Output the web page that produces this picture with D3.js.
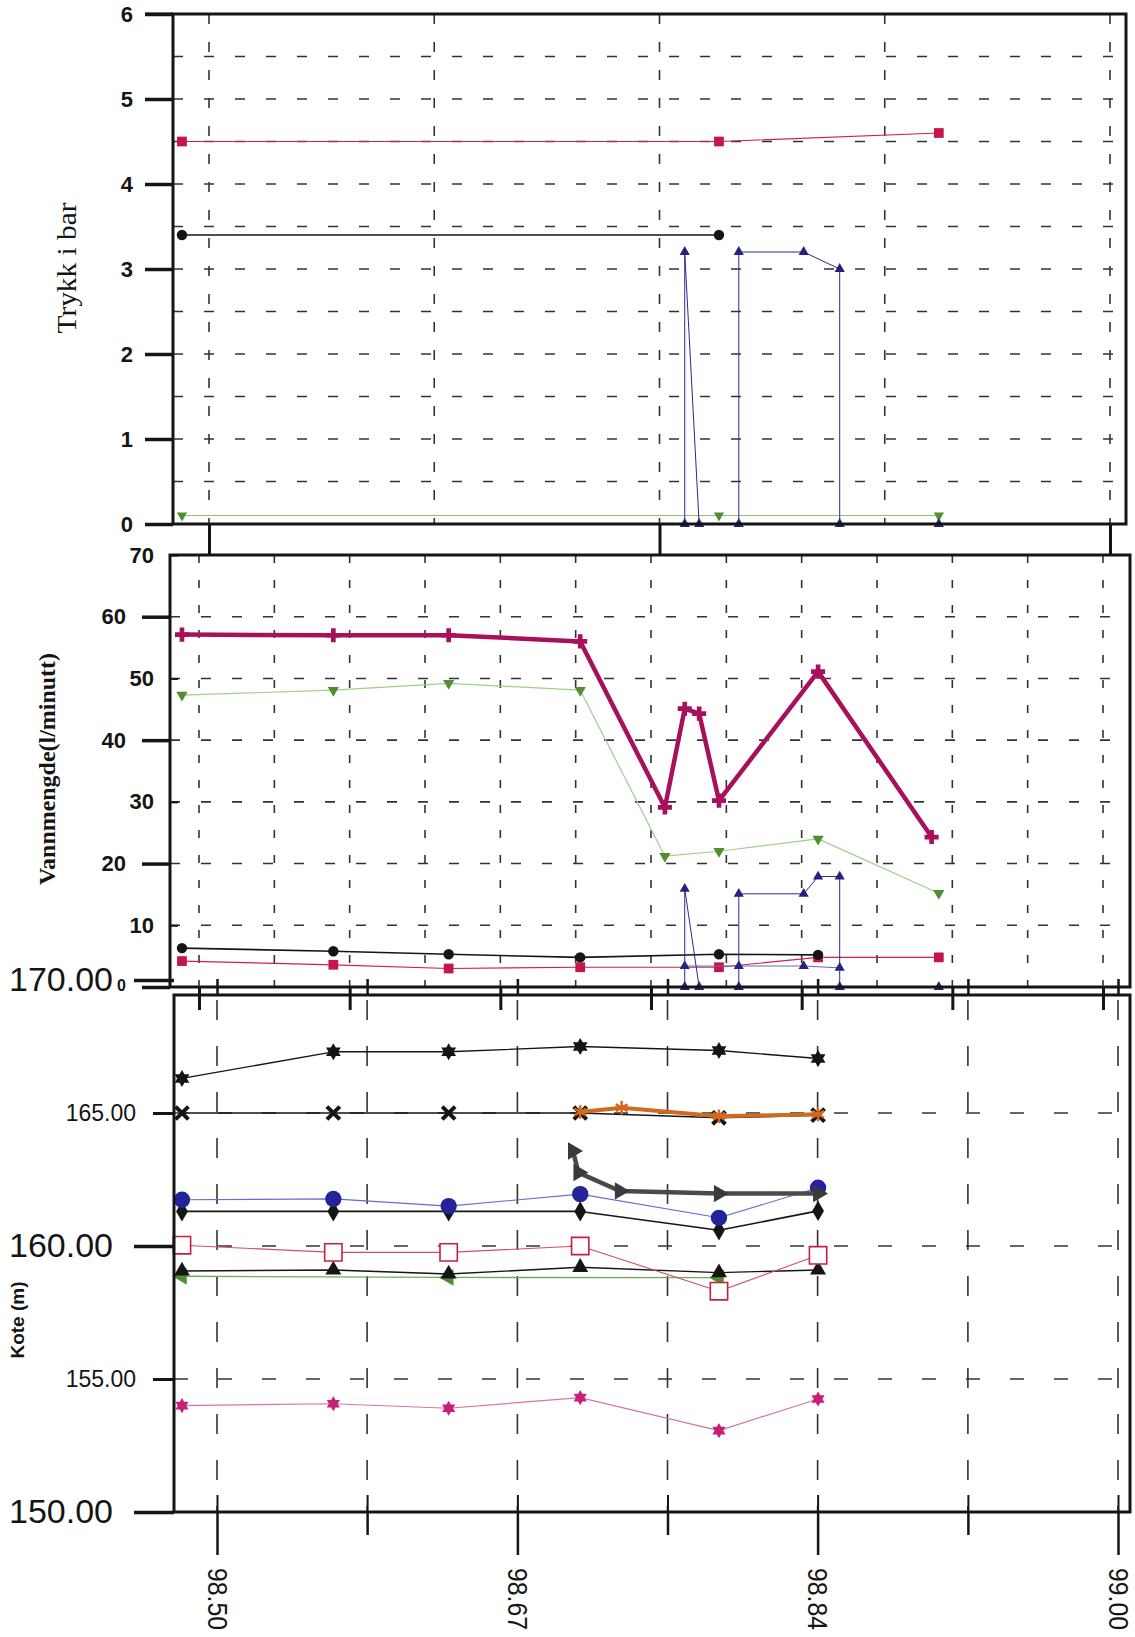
<!DOCTYPE html>
<html>
<head>
<meta charset="utf-8">
<script src="https://cdn.jsdelivr.net/npm/d3@7"></script>
<style>
body { margin: 0; background: #fff; }
</style>
</head>
<body>
<div id="chart"></div>
<script>

// ---- data: x values are decimal years (98.50 = mid 1998) ----

// Trykk i bar (top panel)
const pressRedX = [98.485, 98.783, 98.905];
const pressRedY = [4.5, 4.5, 4.6];
const pressBlackX = [98.485, 98.783];
const pressBlackY = [3.4, 3.4];
const pressBlueX = [98.764, 98.764, 98.772, 98.794, 98.794, 98.830, 98.850, 98.850, 98.905];
const pressBlueY = [0, 3.2, 0, 0, 3.2, 3.2, 3.0, 0, 0];
const pressGreenX = [98.485, 98.783, 98.905];
const pressGreenY = [0.1, 0.1, 0.1];

// Vannmengde (middle panel)
const flowMagX = [98.485, 98.569, 98.633, 98.706, 98.753, 98.764, 98.772, 98.783, 98.838, 98.901];
const flowMagY = [57.1, 57, 57, 56, 29.1, 45.1, 44.3, 30.2, 51.1, 24.3];
const flowGreenX = [98.485, 98.569, 98.633, 98.706, 98.753, 98.783, 98.838, 98.905];
const flowGreenY = [47.3, 48.1, 49.2, 48.1, 21.2, 22.0, 24.0, 15.2];
const flowBlackX = [98.485, 98.569, 98.633, 98.706, 98.783, 98.838];
const flowBlackY = [6.3, 5.8, 5.3, 4.8, 5.3, 5.2];
const flowRedX = [98.485, 98.569, 98.633, 98.706, 98.783, 98.838, 98.905];
const flowRedY = [4.2, 3.6, 3.0, 3.2, 3.2, 4.8, 4.8];
const flowBlueX = [98.764, 98.764, 98.772, 98.794, 98.794, 98.830, 98.838, 98.850, 98.850, 98.905];
const flowBlueY = [0, 15.9, 0, 0, 15.1, 15.1, 17.9, 17.9, 0, 0];
const flowBlue2X = [98.764, 98.794, 98.830, 98.850];
const flowBlue2Y = [3.4, 3.4, 3.4, 3.1];

// Kote (bottom panel)
const koteX = [98.485, 98.569, 98.633, 98.706, 98.783, 98.838];
const koteStarY = [166.3, 167.3, 167.3, 167.5, 167.35, 167.05];
const koteCrossY = [165.0, 165.0, 165.0, 165.0, 164.82, 164.92];
const koteBlueY = [161.74, 161.77, 161.5, 161.95, 161.06, 162.19];
const koteDiamondY = [161.3, 161.3, 161.3, 161.3, 160.59, 161.32];
const koteOpenSqY = [160.03, 159.76, 159.76, 160.0, 158.3, 159.65];
const koteTriY = [159.06, 159.1, 158.95, 159.2, 159.0, 159.1];
const kotePinkY = [154.0, 154.07, 153.9, 154.3, 153.06, 154.25];
const koteOrangeX = [98.706, 98.729, 98.783, 98.838];
const koteOrangeY = [165.04, 165.2, 164.88, 164.95];
const koteGreyX = [98.702, 98.705, 98.728, 98.783, 98.838];
const koteGreyY = [163.57, 162.76, 162.07, 161.97, 161.97];
const koteGreenX = [98.485, 98.633, 98.783];
const koteGreenY = [158.86, 158.82, 158.81];

// axis ticks
const topYTicks = [0, 1, 2, 3, 4, 5, 6];
const topXTicks = [98.5, 98.625, 98.75, 98.875, 99.0];
const midEvenTicks = [0, 20, 40, 60];
const midOddTicks = [10, 30, 50, 70];
const botBigTicks = [150, 160, 170];
const botSmallTicks = [155, 165];
const botXTicks = [98.5, 98.5833, 98.6667, 98.75, 98.8333, 98.9167, 99.0];
const botXLabels = ["98.50", "", "98.67", "", "98.84", "", "99.00"];

// ---- scales ----
const svg = d3.select("#chart").append("svg")
	.attr("width", 1135)
	.attr("height", 1637);

const xData = d3.scaleLinear().domain([98.5, 99.0]).range([209, 1110]);
const xMid = d3.scaleLinear().domain([0, 12]).range([199, 1103]);
const xBot = d3.scaleLinear().domain([98.5, 99.0]).range([217, 1118]);

const yTop = d3.scaleLinear().domain([0, 6]).range([524, 14]);
const yMid = d3.scaleLinear().domain([0, 70]).range([987, 555]);
const yBot = d3.scaleLinear().domain([150, 170]).range([1512, 980]);

const ink = "#151515";

// six pointed star used in the bottom panel
const symbolHexStar = {
	draw(ctx, size) {
		const r = Math.sqrt(size) * 0.72;
		for (let k = 0; k < 2; k++) {
			for (let i = 0; i < 3; i++) {
				const a = (k * 60 + i * 120 - 90) * Math.PI / 180;
				const px = r * Math.cos(a), py = r * Math.sin(a);
				i ? ctx.lineTo(px, py) : ctx.moveTo(px, py);
			}
			ctx.closePath();
		}
	}
};

// ---- helpers ----
function hGrid(xs, ys, y, dash) {
	svg.append("g").selectAll("line").data(ys).enter()
		.append("line")
		.attr("x1", xs[0]).attr("x2", xs[1])
		.attr("y1", d => y(d)).attr("y2", d => y(d))
		.attr("stroke", "#333").attr("stroke-width", 1.6)
		.attr("stroke-dasharray", dash);
}

function vGrid(xs, x, ys, dash) {
	svg.append("g").selectAll("line").data(xs).enter()
		.append("line")
		.attr("x1", d => x(d)).attr("x2", d => x(d))
		.attr("y1", ys[0]).attr("y2", ys[1])
		.attr("stroke", "#333").attr("stroke-width", 1.6)
		.attr("stroke-dasharray", dash);
}

function series(xs, ys, y, o) {
	const pts = xs.map((x, i) => [x, ys[i]]);
	const g = svg.append("g");
	if (o.line) {
		g.append("path").datum(pts)
			.attr("fill", "none")
			.attr("stroke", o.line)
			.attr("stroke-width", o.lw || 1)
			.attr("stroke-linejoin", "round")
			.attr("d", d3.line().x(d => xData(d[0])).y(d => y(d[1])));
	}
	if (o.sym) {
		g.selectAll("path.m").data(pts).enter()
			.append("path")
			.attr("class", "m")
			.attr("transform", d => `translate(${xData(d[0])},${y(d[1])}) rotate(${o.rot || 0})`)
			.attr("d", d3.symbol().type(o.sym).size(o.size || 40))
			.attr("fill", o.fill || "none")
			.attr("stroke", o.stroke || "none")
			.attr("stroke-width", o.sw || 1);
	}
}

function styleAxis(g, sw, size, weight) {
	g.attr("font-size", null).attr("font-family", null);
	g.select(".domain").remove();
	g.selectAll("line").attr("stroke", ink).attr("stroke-width", sw);
	g.selectAll("text")
		.attr("fill", ink)
		.style("font-family", "'Liberation Sans', Arial, sans-serif")
		.style("font-size", size + "px")
		.style("font-weight", weight);
	return g;
}

function frame(x0, y0, x1, y1, sw) {
	svg.append("rect")
		.attr("x", x0).attr("y", y0)
		.attr("width", x1 - x0).attr("height", y1 - y0)
		.attr("fill", "none").attr("stroke", ink).attr("stroke-width", sw);
}

// ================= top panel: Trykk i bar =================
hGrid([173, 1126], d3.range(0.5, 6, 0.5), yTop, "10,21");
vGrid(topXTicks, xData, [14, 524], "10,18");

series(pressGreenX, pressGreenY, yTop, { line: "#8cc46c", lw: 1.2, sym: d3.symbolTriangle, rot: 180, size: 45, fill: "#4f8f2f" });
series(pressRedX, pressRedY, yTop, { line: "#d0204c", lw: 1.2, sym: d3.symbolSquare, size: 95, fill: "#c4164a" });
series(pressBlackX, pressBlackY, yTop, { line: ink, lw: 1.6, sym: d3.symbolCircle, size: 85, fill: ink });
series(pressBlueX, pressBlueY, yTop, { line: "#2b2b8c", lw: 1, sym: d3.symbolTriangle, size: 45, fill: "#23237e" });

frame(173, 14, 1126, 524, 3);
svg.append("line").attr("x1", 145).attr("x2", 173).attr("y1", 14).attr("y2", 14)
	.attr("stroke", ink).attr("stroke-width", 3);

svg.append("g").attr("transform", "translate(173,0)")
	.call(d3.axisLeft(yTop).tickValues(topYTicks).tickSize(28).tickPadding(12).tickFormat(d3.format("d")))
	.call(g => styleAxis(g, 3.5, 22, "bold"));

svg.append("g").attr("transform", "translate(0,524)")
	.call(d3.axisBottom(xData).tickValues([98.5, 98.75, 99.0]).tickSize(32).tickFormat(""))
	.call(g => styleAxis(g, 3, 10, "normal"));

svg.append("text")
	.attr("transform", "translate(76,268) rotate(-90)")
	.attr("text-anchor", "middle")
	.attr("textLength", 131)
	.attr("lengthAdjust", "spacingAndGlyphs")
	.style("font-family", "'Liberation Serif', 'Times New Roman', serif")
	.style("font-size", "27px")
	.attr("fill", ink)
	.text("Trykk i bar");

// ================= middle panel: Vannmengde =================
hGrid([170, 1130], [10, 20, 30, 40, 50, 60], yMid, "10,21");
vGrid(d3.range(13), xMid, [555, 987], "8,17");

series(flowRedX, flowRedY, yMid, { line: "#d0204c", lw: 1.2, sym: d3.symbolSquare, size: 95, fill: "#c4164a" });
series(flowBlackX, flowBlackY, yMid, { line: ink, lw: 1.6, sym: d3.symbolCircle, size: 85, fill: ink });
series(flowBlue2X, flowBlue2Y, yMid, { line: "#6a6aa8", lw: 1, sym: d3.symbolTriangle, size: 45, fill: "#23237e" });
series(flowBlueX, flowBlueY, yMid, { line: "#2b2b8c", lw: 1, sym: d3.symbolTriangle, size: 45, fill: "#23237e" });
series(flowGreenX, flowGreenY, yMid, { line: "#9fd08a", lw: 1.2, sym: d3.symbolTriangle, rot: 180, size: 55, fill: "#4f8f2f" });
series(flowMagX, flowMagY, yMid, { line: "#a8105c", lw: 4.5, sym: d3.symbolCross, size: 110, fill: "#a8105c" });

frame(170, 555, 1130, 987, 3);

svg.append("g").attr("transform", "translate(170,0)")
	.call(d3.axisLeft(yMid).tickValues(midEvenTicks).tickSize(28).tickPadding(16))
	.call(g => styleAxis(g, 3.5, 22, "bold"))
	.call(g => g.selectAll(".tick").filter(d => d === 0).select("text")
		.style("font-size", "16px").attr("dy", "0.2em"));

svg.append("g").attr("transform", "translate(170,0)")
	.call(d3.axisRight(yMid).tickValues(midOddTicks).tickSize(8).tickFormat(""))
	.call(g => styleAxis(g, 2, 22, "bold"));

svg.append("g").attr("transform", "translate(170,0)")
	.call(d3.axisLeft(yMid).tickValues(midOddTicks).tickSize(0).tickPadding(16))
	.call(g => styleAxis(g, 0, 22, "bold"));

svg.append("g").attr("transform", "translate(0,987)")
	.call(d3.axisBottom(xMid).tickValues(d3.range(0, 13, 2)).tickSize(23).tickFormat(""))
	.call(g => styleAxis(g, 3, 10, "normal"));

svg.append("text")
	.attr("transform", "translate(55,769) rotate(-90)")
	.attr("text-anchor", "middle")
	.attr("textLength", 232)
	.attr("lengthAdjust", "spacingAndGlyphs")
	.style("font-family", "'Liberation Serif', 'Times New Roman', serif")
	.style("font-size", "23px")
	.style("font-weight", "bold")
	.attr("fill", ink)
	.text("Vannmengde(l/minutt)");

// ================= bottom panel: Kote (m) =================
hGrid([174, 1130], [155, 160, 165], yBot, "14,30");
vGrid(botXTicks, xBot, [1000, 1512], "20,26");

series(koteX, kotePinkY, yBot, { line: "#d874a8", lw: 1.2, sym: symbolHexStar, size: 110, fill: "#c82078" });
series(koteGreenX, koteGreenY, yBot, { line: "#6cae54", lw: 1.4, sym: d3.symbolTriangle, rot: -90, size: 120, fill: "#4f8f2f" });
series(koteX, koteTriY, yBot, { line: ink, lw: 1.4, sym: d3.symbolTriangle, size: 110, fill: ink });
series(koteX, koteOpenSqY, yBot, { line: "#d0506a", lw: 1.1, sym: d3.symbolSquare, size: 300, fill: "#fff", stroke: "#c8203c", sw: 1.6 });
series(koteX, koteDiamondY, yBot, { line: ink, lw: 1.6, sym: d3.symbolDiamond, size: 120, fill: ink });
series(koteX, koteBlueY, yBot, { line: "#6a6ad0", lw: 1.1, sym: d3.symbolCircle, size: 210, fill: "#23239a" });
series(koteGreyX, koteGreyY, yBot, { line: "#4a4a4a", lw: 4.5, sym: d3.symbolTriangle, rot: 90, size: 130, fill: "#3a3a3a" });
series(koteX, koteCrossY, yBot, { line: ink, lw: 1.6, sym: d3.symbolTimes, size: 110, stroke: ink, sw: 4 });
series(koteOrangeX, koteOrangeY, yBot, { line: "#cf6a20", lw: 4, sym: d3.symbolAsterisk, size: 130, stroke: "#d2691e", sw: 2.5 });
series(koteX, koteStarY, yBot, { line: ink, lw: 1.4, sym: symbolHexStar, size: 140, fill: ink });

frame(174, 995, 1130, 1512, 3);

svg.append("g").attr("transform", "translate(174,0)")
	.call(d3.axisLeft(yBot).tickValues(botBigTicks).tickSize(40).tickPadding(21).tickFormat(d3.format(".2f")))
	.call(g => styleAxis(g, 3.5, 34, "normal"));

svg.append("g").attr("transform", "translate(174,0)")
	.call(d3.axisLeft(yBot).tickValues(botSmallTicks).tickSize(21).tickPadding(17).tickFormat(d3.format(".2f")))
	.call(g => styleAxis(g, 3, 23, "normal"));

svg.append("g").attr("transform", "translate(0,995)")
	.call(d3.axisTop(xBot).tickValues(botXTicks).tickSize(16).tickFormat(""))
	.call(g => styleAxis(g, 2.5, 10, "normal"));

// bottom x axis: inside ticks, minor and major ticks with rotated labels
svg.append("g").attr("transform", "translate(0,1512)")
	.call(d3.axisTop(xBot).tickValues(botXTicks).tickSize(17).tickFormat(""))
	.call(g => styleAxis(g, 2, 10, "normal"));

svg.append("g").attr("transform", "translate(0,1512)")
	.call(d3.axisBottom(xBot).tickValues(botXTicks)
		.tickSize(23)
		.tickFormat((d, i) => botXLabels[i]))
	.call(g => styleAxis(g, 2.5, 28, "normal"))
	.call(g => g.selectAll(".tick").filter((d, i) => botXLabels[i] !== "")
		.select("line").attr("y2", 43))
	.call(g => g.selectAll(".tick").filter((d, i) => botXLabels[i] !== "")
		.select("text")
		.attr("transform", "rotate(90)")
		.attr("x", 56).attr("y", 0).attr("dy", "0.35em")
		.attr("textLength", 62)
		.attr("lengthAdjust", "spacingAndGlyphs")
		.style("text-anchor", "start"));

svg.append("text")
	.attr("transform", "translate(24,1320) rotate(-90)")
	.attr("text-anchor", "middle")
	.style("font-family", "'Liberation Sans', Arial, sans-serif")
	.style("font-size", "19px")
	.style("font-weight", "bold")
	.attr("fill", ink)
	.text("Kote (m)");

</script>
</body>
</html>
